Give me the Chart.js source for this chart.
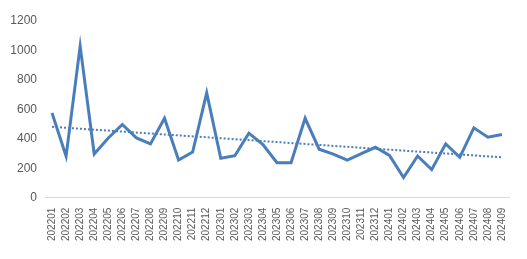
<!DOCTYPE html>
<html>
<head>
<meta charset="utf-8">
<script src="https://cdn.jsdelivr.net/npm/chart.js@4"></script>
<style>
  html, body { margin: 0; padding: 0; background: #fff; }
  #wrap { width: 527px; height: 259px; position: relative; }
</style>
</head>
<body>
<div id="wrap"><canvas id="c"></canvas></div>
<script>
// 月份
const months = [
    '202201', '202202', '202203', '202204', '202205', '202206', '202207', '202208', '202209', '202210', '202211', '202212',
    '202301', '202302', '202303', '202304', '202305', '202306', '202307', '202308', '202309', '202310', '202311', '202312',
    '202401', '202402', '202403', '202404', '202405', '202406', '202407', '202408', '202409'
];
// 數值
const values = [
    575, 281, 1029, 296, 405, 497, 406, 365, 539, 255, 310, 712,
    267, 285, 438, 360, 237, 237, 539, 329, 295, 255, 299, 342,
    287, 137, 283, 190, 365, 274, 474, 411, 429
];
// 趨勢線兩端
const trendStart = 481;
const trendEnd = 274;
const trend = months.map((m, i) => i === 0 ? trendStart : (i === months.length - 1 ? trendEnd : null));

const yTicks = [0, 200, 400, 600, 800, 1000, 1200];

const blue = '#4a7ebb';
const textColor = '#595959';

new Chart(document.getElementById('c'), {
    type: 'line',
    data: {
        labels: months,
        datasets: [
            {
                data: values,
                borderColor: blue,
                borderWidth: 3,
                pointRadius: 0,
                tension: 0,
                fill: false
            },
            {
                data: trend,
                borderColor: blue,
                borderWidth: 2,
                borderDash: [2, 2],
                pointRadius: 0,
                spanGaps: true,
                fill: false
            }
        ]
    },
    options: {
        responsive: true,
        maintainAspectRatio: false,
        animation: false,
        layout: { padding: { top: 21, right: 18, bottom: 16, left: 0 } },
        plugins: {
            legend: { display: false },
            tooltip: { enabled: false }
        },
        scales: {
            x: {
                offset: true,
                grid: { display: false },
                border: { color: '#d9d9d9', width: 1 },
                ticks: {
                    color: textColor,
                    autoSkip: false,
                    maxRotation: 90,
                    minRotation: 90,
                    padding: 2,
                    font: { family: 'Liberation Sans', size: 10 }
                }
            },
            y: {
                min: 0,
                max: 1200,
                afterBuildTicks: axis => { axis.ticks = yTicks.map(v => ({ value: v })); },
                afterFit: axis => { axis.width = 45; },
                grid: { display: false, drawTicks: false },
                border: { display: false },
                ticks: {
                    color: textColor,
                    padding: 8,
                    callback: v => String(v),
                    font: { family: 'Liberation Sans', size: 12 }
                }
            }
        }
    }
});
</script>
</body>
</html>
